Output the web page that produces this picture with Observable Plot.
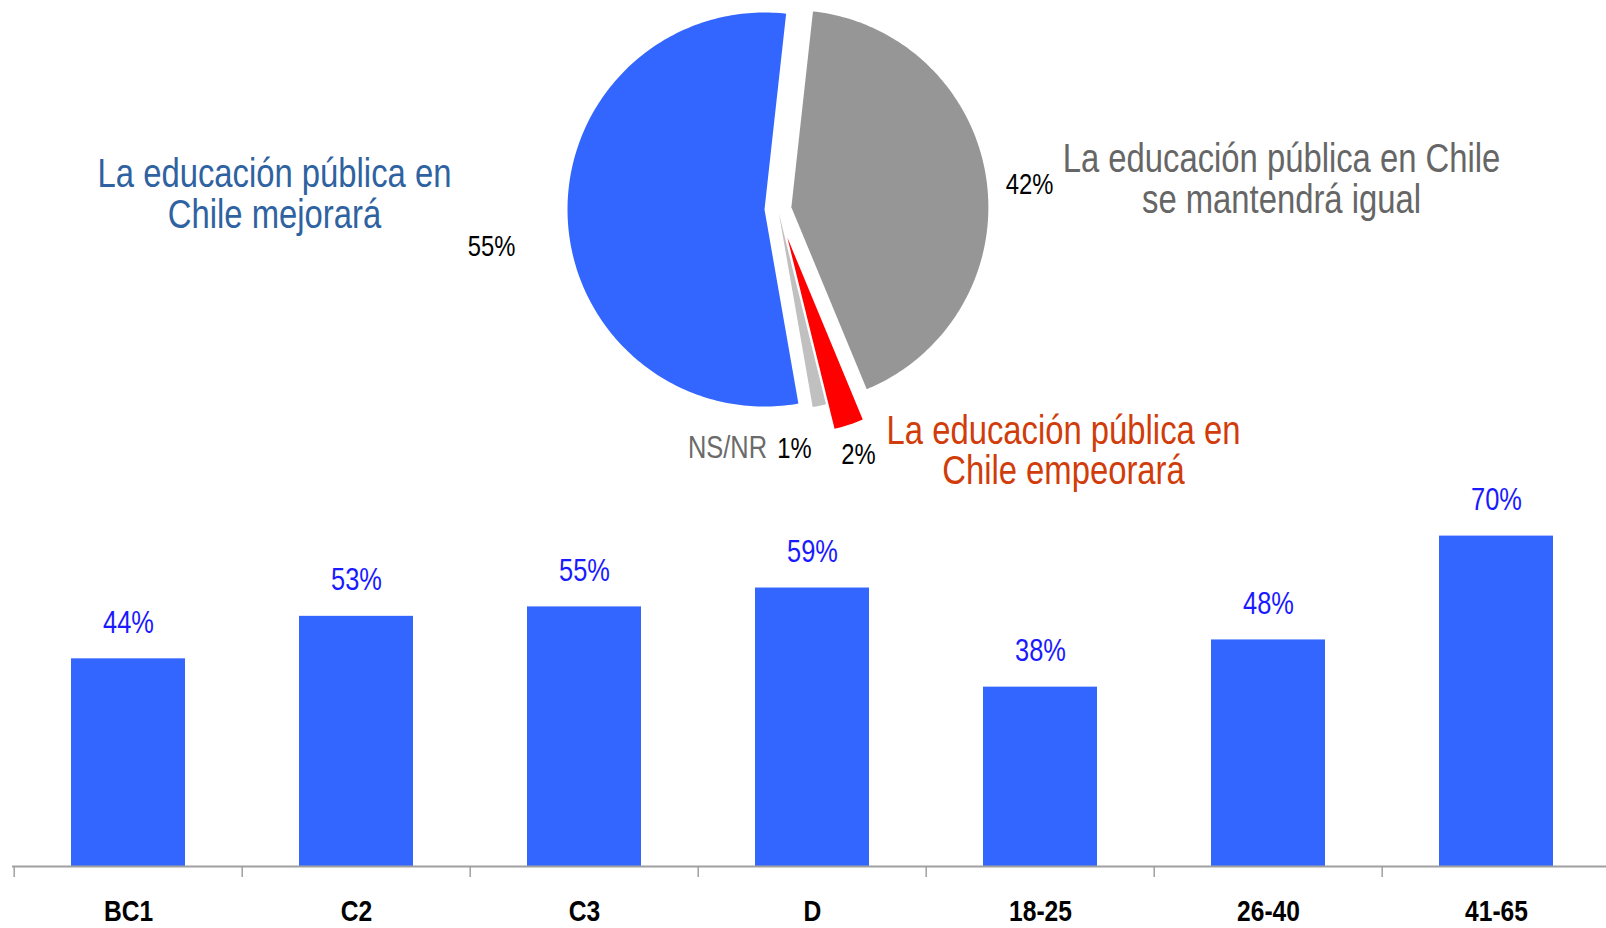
<!DOCTYPE html>
<html>
<head>
<meta charset="utf-8">
<script src="https://cdn.jsdelivr.net/npm/d3@7"></script>
<script src="https://cdn.jsdelivr.net/npm/@observablehq/plot@0.6"></script>
<style>
  html, body { margin: 0; padding: 0; background: #ffffff; }
  #chart { width: 1606px; height: 928px; position: relative; overflow: hidden; }
  #chart svg { display: block; }
</style>
</head>
<body>
<div id="chart"></div>
<script>
// ---------- data ----------
const pieCategories = ["La educación pública en Chile se mantendrá igual", "La educación pública en Chile empeorará", "NS/NR", "La educación pública en Chile mejorará"];
const pieValues = [42.0, 2.4, 1.1, 54.5];
const pieColors = ["#969696", "#FF0000", "#C0C0C0", "#3366FF"];

const barCategories = ["BC1", "C2", "C3", "D", "18-25", "26-40", "41-65"];
const barValues = [44, 53, 55, 59, 38, 48, 70];

// category label lines of the pie
const pieLabelLines = [
  {text: "La educación pública en", color: "#2F62A0", x: 274, y: 174},
  {text: "Chile mejorará", color: "#2F62A0", x: 274, y: 215},
  {text: "La educación pública en Chile", color: "#666666", x: 1281, y: 159},
  {text: "se mantendrá igual", color: "#666666", x: 1281, y: 200},
  {text: "La educación pública en", color: "#D03C0A", x: 1063, y: 431},
  {text: "Chile empeorará", color: "#D03C0A", x: 1063, y: 471}
];
const nsLabel = [{text: "NS/NR", color: "#6b6b6b", x: 727, y: 448}];
// position of each slice's percentage label (same order as pieValues)
const piePctPos = [
  {x: 1029, y: 184},
  {x: 858, y: 454},
  {x: 794, y: 448},
  {x: 491, y: 246}
];

// ---------- layout ----------
const FONT = "'Liberation Sans', Arial, sans-serif";
const NARROW = 0.82; // horizontal condensing (Arial Narrow look)
const W = 1606;
const pieH = 480;
const barH = 448;
const pieCenter = [777.5, 208.6];
const pieRadius = 197;
const pieStartDeg = 6.3;
const pieExplode = [13.5, 30, 4, 13.5];

// ---------- pie wedges ----------
const total = d3.sum(pieValues);
let acc = pieStartDeg * Math.PI / 180;
const wedgePoints = [];
pieValues.forEach((v, i) => {
  const a0 = acc, a1 = acc + v / total * 2 * Math.PI;
  acc = a1;
  const mid = (a0 + a1) / 2;
  const ox = pieCenter[0] + pieExplode[i] * Math.sin(mid);
  const oy = pieCenter[1] - pieExplode[i] * Math.cos(mid);
  const n = Math.max(8, Math.ceil((a1 - a0) / (Math.PI / 180)));
  wedgePoints.push({slice: i, x: ox, y: oy});
  for (let k = 0; k <= n; k++) {
    const a = a0 + (a1 - a0) * k / n;
    wedgePoints.push({slice: i, x: ox + pieRadius * Math.sin(a), y: oy - pieRadius * Math.cos(a)});
  }
});
const pctLabels = pieValues.map((v, i) => ({text: Math.round(v) + "%", x: piePctPos[i].x, y: piePctPos[i].y}));

const pie = Plot.plot({
  width: W, height: pieH,
  margin: 0,
  x: {domain: [0, W], range: [0, W], axis: null},
  y: {domain: [0, pieH], range: [0, pieH], axis: null},
  style: {fontFamily: FONT, background: "transparent", overflow: "visible"},
  marks: [
    ...pieValues.map((v, i) => Plot.line(wedgePoints.filter(p => p.slice === i), {
      x: "x", y: "y", fill: pieColors[i], stroke: "none"
    })),
    Plot.text(pieLabelLines, {x: "x", y: "y", text: "text", fill: "color", fontSize: 40, textAnchor: "middle", lineAnchor: "middle"}),
    Plot.text(nsLabel, {x: "x", y: "y", text: "text", fill: "color", fontSize: 31, textAnchor: "middle", lineAnchor: "middle"}),
    Plot.text(pctLabels, {x: "x", y: "y", text: "text", fill: "#000000", fontSize: 29, textAnchor: "middle", lineAnchor: "middle"})
  ]
});

// ---------- bars ----------
const barData = barCategories.map((c, i) => ({cat: c, value: barValues[i] / 100}));
const step = (1612.5 - 12.3) / barCategories.length;
const pxPerUnit = (barH - 62 - 8.4) / 0.8;

const bars = Plot.plot({
  width: W, height: barH,
  marginTop: 8.4, marginBottom: 62, marginLeft: 12, marginRight: 0,
  x: {domain: barCategories, range: [12.3, 1612.5], paddingInner: 0.5, paddingOuter: 0.25},
  y: {domain: [0, 0.8], axis: null},
  style: {fontFamily: FONT, background: "transparent", overflow: "visible"},
  marks: [
    Plot.barY(barData, {x: "cat", y: "value", fill: "#3366FF"}),
    Plot.ruleY([0], {stroke: "#a0a0a0", strokeWidth: 2}),
    Plot.ruleX(barCategories, {x: d => d, dx: -step / 2, y1: 0, y2: -11 / pxPerUnit, stroke: "#a0a0a0", strokeWidth: 1.5}),
    Plot.text(barData, {x: "cat", y: "value", text: d => Math.round(d.value * 100) + "%", dy: -36, fill: "#1a1aff", fontSize: 31, lineAnchor: "middle"}),
    Plot.axisX({tickSize: 0, tickPadding: 33, fontSize: 30, fontWeight: "bold", fill: "#000", label: null})
  ]
});

const root = document.getElementById("chart");
root.appendChild(pie);
root.appendChild(bars);

// condense all texts horizontally (narrow font look), keeping them as real text
root.querySelectorAll("text").forEach(el => {
  const len = el.getComputedTextLength();
  if (len > 0) {
    el.setAttribute("textLength", (len * NARROW).toFixed(1));
    el.setAttribute("lengthAdjust", "spacingAndGlyphs");
  }
});
</script>
</body>
</html>
